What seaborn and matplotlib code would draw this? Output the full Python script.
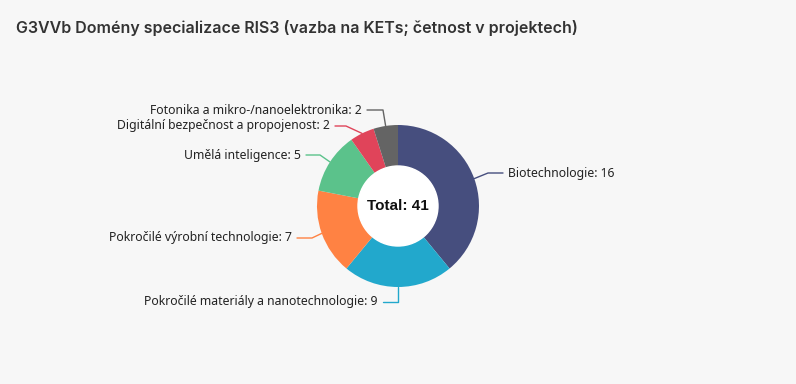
import matplotlib.pyplot as plt
import numpy as np
import seaborn as sns

W, H = 796, 384

title = "G3VVb Domény specializace RIS3 (vazba na KETs; četnost v projektech)"
categories = [
    "Biotechnologie",
    "Pokročilé materiály a nanotechnologie",
    "Pokročilé výrobní technologie",
    "Umělá inteligence",
    "Digitální bezpečnost a propojenost",
    "Fotonika a mikro-/nanoelektronika",
]
counts = [16, 9, 7, 5, 2, 2]
colors = ["#464e7e", "#22a8cc", "#ff8243", "#5bc28b", "#e0445a", "#646464"]

# label layout in pixel coords (y from top): elbow point, line end, text side
elbows = [(488, 173), (398, 302), (312, 238), (320, 155), (346, 126), (383, 110)]
line_ends = [(503, 173), (383, 302), (297, 238), (306, 155), (335, 126), (367, 110)]
sides = ["left", "right", "right", "right", "right", "right"]

sns.set_theme(style="white")
plt.rcParams["font.family"] = ["Noto Sans", "DejaVu Sans"]

fig = plt.figure(figsize=(W / 100, H / 100), dpi=100)
fig.patch.set_facecolor("#f7f7f7")
ax = fig.add_axes([0, 0, 1, 1])

cx, cy, r_out, r_in = 398, H - 206, 81, 40
palette = sns.color_palette(colors)
wedges, _ = ax.pie(
    counts,
    colors=palette,
    startangle=90,
    counterclock=False,
    center=(cx, cy),
    radius=r_out,
    wedgeprops=dict(width=r_out - r_in, edgecolor="none", linewidth=0),
    frame=True,
)
ax.set_xlim(0, W)
ax.set_ylim(0, H)
ax.set_aspect("equal")
ax.axis("off")
ax.add_patch(plt.Circle((cx, cy), r_in, color="white", zorder=3))
ax.text(cx, cy, f"Total: {sum(counts)}", ha="center", va="center",
        fontsize=11, fontweight="bold", family=["Liberation Sans"], color="#111111", zorder=4)

for w, cat, n, col, el, le, side in zip(wedges, categories, counts, colors, elbows, line_ends, sides):
    ang = np.deg2rad((w.theta1 + w.theta2) / 2)
    ax_, ay_ = cx + r_out * np.cos(ang), cy + r_out * np.sin(ang)
    xs = [ax_, el[0], le[0]]
    ys = [ay_, H - el[1], H - le[1]]
    ax.plot(xs, ys, color=col, lw=1, zorder=1)
    tx = le[0] + 5 if side == "left" else le[0] - 5
    ax.text(tx, H - le[1], f"{cat}: {n}", ha=side, va="center",
            fontsize=8.8, color="#222222")

fig.text(16 / W, 1 - 28 / H, title, ha="left", va="center", fontsize=11.5,
         fontweight="semibold", family=["Inter", "DejaVu Sans"], color="#333333")

fig.savefig("out.png", dpi=100, facecolor=fig.get_facecolor())
